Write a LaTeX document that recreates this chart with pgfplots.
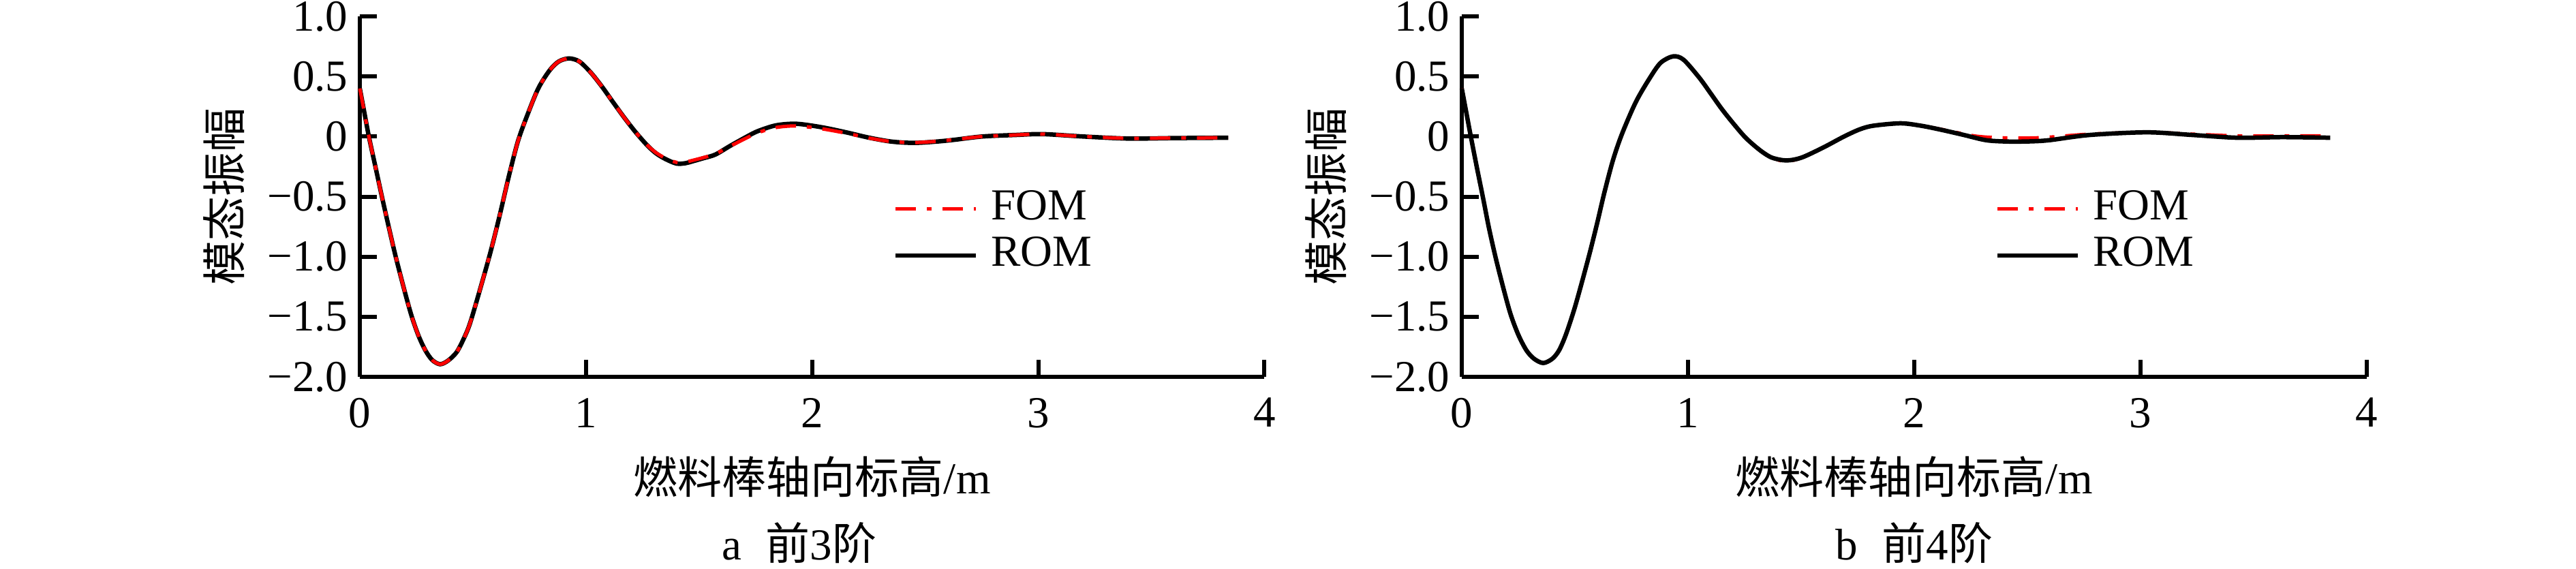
\documentclass[border=0pt]{standalone}
\usepackage{fontspec}
\setmainfont{Liberation Serif}
\newfontfamily\cjk{Noto Sans CJK SC}
\usepackage{pgfplots}
\pgfplotsset{compat=1.18}
\newcommand\fs{\fontsize{13}{15.6}\selectfont}

\pgfplotsset{
 mystyle/.style={
  scale only axis, width=265.5pt, height=105.8pt,
  xmin=0,xmax=4,ymin=-2,ymax=1,
  axis x line*=bottom, axis y line*=left,
  axis line style={-, line width=1.2pt},
  tick align=inside, major tick length=5pt,
  tick style={line width=1.2pt, black},
  xtick={0,1,2,3,4}, xticklabels={0,1,2,3,4},
  ytick={-2,-1.5,-1,-0.5,0,0.5,1},
  yticklabels={−2.0,−1.5,−1.0,−0.5,0,0.5,1.0},
  ticklabel style={font=\fs},
  xticklabel style={yshift=-2.7pt},
  clip=false,
  xlabel={{\cjk 燃料棒轴向标高}/m},
  xlabel style={font=\fs, at={(axis description cs:0.5,-0.2779)}, anchor=center},
  ylabel={模态振幅},
  ylabel style={font=\fs\cjk, at={(axis description cs:-0.1499,0.5)}, anchor=center},
  legend style={draw=none, fill=none, font=\fs,
    at={(axis description cs:0.589,0.401)}, anchor=west,
    inner sep=0pt, row sep=1pt, column sep=3.8pt,
    nodes={inner sep=0pt, text height=9.5pt, text depth=3.1pt}},
  legend cell align=left,
  legend image code/.code={\draw[##1] (0pt,0pt) -- (23.6pt,0pt);},
 },
 fom/.style={red, line width=1pt, dash pattern=on 6pt off 3.2pt on 1.4pt off 3.2pt},
 rom/.style={black, line width=1.3pt},
}

\pgfplotstableread{
x y
0.00 0.40
0.02 0.20
0.04 0.00
0.07 -0.26
0.10 -0.52
0.13 -0.77
0.16 -1.01
0.20 -1.30
0.23 -1.50
0.26 -1.66
0.29 -1.78
0.32 -1.86
0.355 -1.895
0.39 -1.865
0.428 -1.795
0.46 -1.68
0.488 -1.55
0.538 -1.23
0.578 -0.96
0.618 -0.66
0.659 -0.33
0.699 -0.04
0.739 0.17
0.789 0.40
0.839 0.55
0.88 0.625
0.925 0.65
0.97 0.625
1.02 0.535
1.07 0.417
1.12 0.285
1.171 0.153
1.22 0.035
1.271 -0.074
1.31 -0.14
1.351 -0.187
1.40 -0.225
1.44 -0.222
1.472 -0.206
1.52 -0.18
1.572 -0.15
1.64 -0.075
1.712 0.0
1.76 0.045
1.84 0.093
1.93 0.106
2.04 0.078
2.15 0.035
2.25 -0.009
2.35 -0.042
2.45 -0.053
2.55 -0.042
2.63 -0.027
2.75 0.0
2.90 0.013
3.02 0.02
3.20 0.0
3.40 -0.017
3.60 -0.013
3.84 -0.01
}\romA

\pgfplotstableread{
x y
0.00 0.40
0.02 0.20
0.04 0.00
0.07 -0.26
0.10 -0.52
0.13 -0.77
0.16 -1.01
0.20 -1.30
0.23 -1.50
0.26 -1.66
0.29 -1.78
0.32 -1.86
0.355 -1.895
0.39 -1.865
0.428 -1.795
0.46 -1.68
0.488 -1.55
0.538 -1.23
0.578 -0.96
0.618 -0.66
0.659 -0.33
0.699 -0.04
0.739 0.17
0.789 0.40
0.839 0.55
0.88 0.625
0.925 0.65
0.97 0.625
1.02 0.535
1.07 0.417
1.12 0.285
1.171 0.153
1.22 0.035
1.271 -0.072
1.31 -0.135
1.351 -0.18
1.40 -0.215
1.44 -0.212
1.472 -0.198
1.52 -0.175
1.572 -0.145
1.64 -0.078
1.712 -0.01
1.76 0.032
1.84 0.075
1.93 0.088
2.04 0.065
2.15 0.028
2.25 -0.012
2.35 -0.042
2.45 -0.050
2.55 -0.040
2.63 -0.025
2.75 0.0
2.90 0.013
3.02 0.02
3.20 0.0
3.40 -0.015
3.60 -0.012
3.84 -0.01
}\fomA

\pgfplotstableread{
x y
0.00 0.40
0.02 0.20
0.04 0.00
0.067 -0.26
0.095 -0.52
0.12 -0.76
0.15 -1.01
0.185 -1.27
0.216 -1.48
0.25 -1.65
0.286 -1.78
0.32 -1.85
0.36 -1.885
0.40 -1.85
0.43 -1.78
0.46 -1.65
0.497 -1.44
0.53 -1.22
0.567 -0.96
0.60 -0.71
0.63 -0.47
0.668 -0.20
0.708 0.02
0.769 0.285
0.829 0.48
0.879 0.613
0.934 0.667
0.98 0.64
1.05 0.49
1.10 0.36
1.15 0.228
1.20 0.11
1.25 0.0
1.29 -0.07
1.33 -0.13
1.37 -0.175
1.42 -0.197
1.46 -0.195
1.51 -0.17
1.60 -0.09
1.69 0.0
1.76 0.06
1.82 0.09
1.94 0.11
2.03 0.09
2.12 0.056
2.22 0.013
2.32 -0.031
2.42 -0.042
2.52 -0.04
2.60 -0.03
2.777 0.013
3.03 0.035
3.23 0.013
3.43 -0.01
3.63 -0.005
3.84 -0.01
}\romB

\pgfplotstableread{
x y
0.00 0.40
0.02 0.20
0.04 0.00
0.067 -0.26
0.095 -0.52
0.12 -0.76
0.15 -1.01
0.185 -1.27
0.216 -1.48
0.25 -1.65
0.286 -1.78
0.32 -1.85
0.36 -1.885
0.40 -1.85
0.43 -1.78
0.46 -1.65
0.497 -1.44
0.53 -1.22
0.567 -0.96
0.60 -0.71
0.63 -0.47
0.668 -0.20
0.708 0.02
0.769 0.285
0.829 0.48
0.879 0.613
0.934 0.667
0.98 0.64
1.05 0.49
1.10 0.36
1.15 0.228
1.20 0.11
1.25 0.0
1.29 -0.07
1.33 -0.13
1.37 -0.175
1.42 -0.205
1.46 -0.20
1.51 -0.17
1.60 -0.09
1.69 0.0
1.76 0.06
1.82 0.09
1.94 0.11
2.03 0.09
2.12 0.06
2.25 0.01
2.32 -0.005
2.42 -0.012
2.52 -0.012
2.60 -0.005
2.777 0.02
3.03 0.035
3.23 0.02
3.43 0.005
3.63 0.005
3.84 0.005
}\fomB

\begin{document}
\begin{tikzpicture}
\useasboundingbox (0,0) rectangle (756pt,166.8pt);

\begin{axis}[mystyle, at={(105.6pt,56.2pt)}, anchor=south west]
\addlegendimage{fom}\addlegendentry{FOM}
\addlegendimage{rom}\addlegendentry{ROM}
\addplot[rom, smooth, forget plot] table {\romA};
\addplot[fom, smooth, forget plot] table {\fomA};
\node[font=\fs, anchor=center] at (axis description cs:0.4857,-0.4612) {a\hspace{0.55em}{\cjk 前}3{\cjk 阶}};
\end{axis}

\begin{axis}[mystyle, at={(429pt,56.2pt)}, anchor=south west]
\addlegendimage{fom}\addlegendentry{FOM}
\addlegendimage{rom}\addlegendentry{ROM}
\addplot[fom, smooth, forget plot] table {\fomB};
\addplot[rom, smooth, forget plot] table {\romB};
\node[font=\fs, anchor=center] at (axis description cs:0.5,-0.4612) {b\hspace{0.55em}{\cjk 前}4{\cjk 阶}};
\end{axis}
\end{tikzpicture}
\end{document}
